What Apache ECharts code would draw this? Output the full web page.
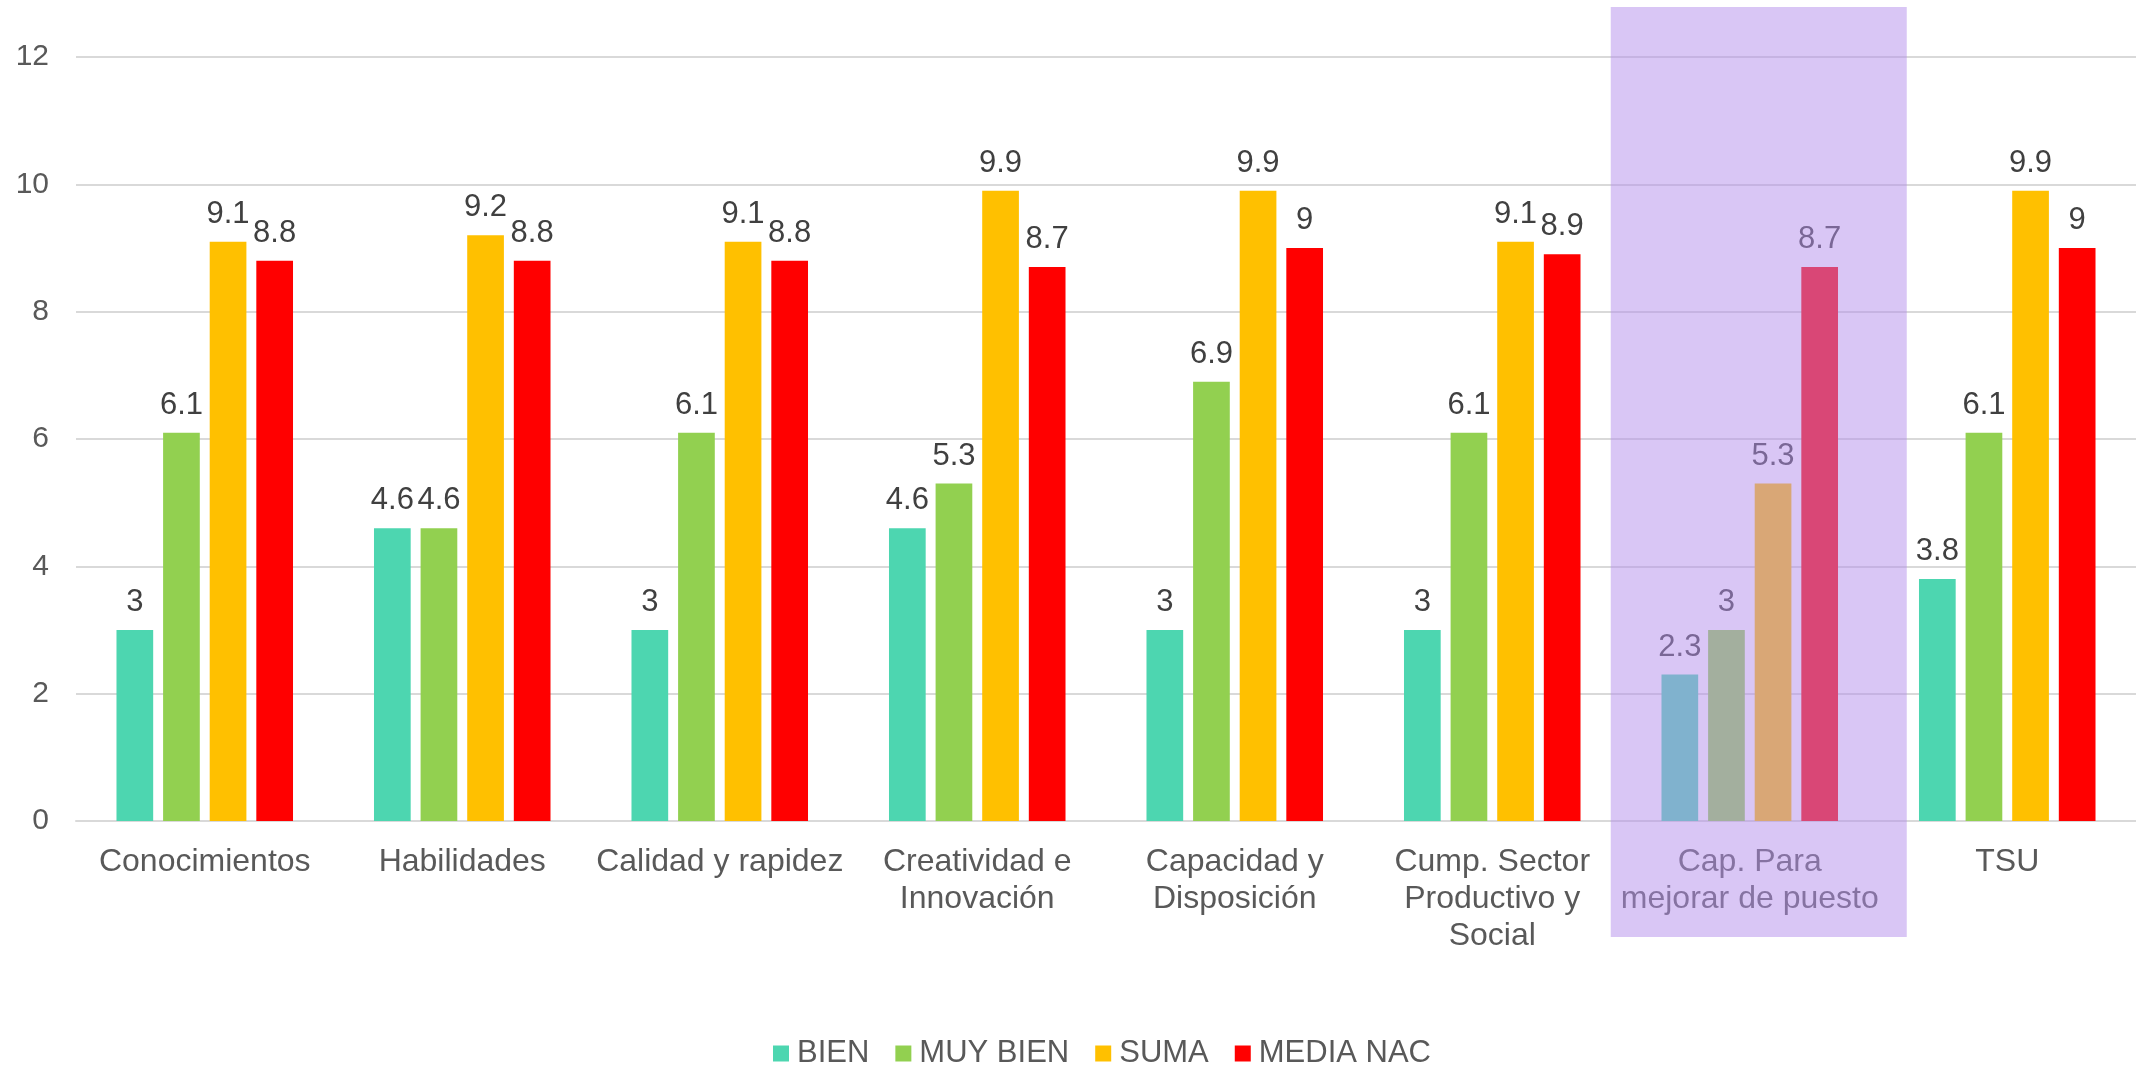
<!DOCTYPE html>
<html>
<head>
<meta charset="utf-8">
<script src="https://cdn.jsdelivr.net/npm/echarts@6/dist/echarts.min.js"></script>
<style>
html,body{margin:0;padding:0;background:#fff;}
#c{width:2136px;height:1068px;}
</style>
</head>
<body>
<div id="c"></div>
<script>
const categories = ["Conocimientos", "Habilidades", "Calidad y rapidez", "Creatividad e\nInnovación", "Capacidad y\nDisposición", "Cump. Sector\nProductivo y\nSocial", "Cap. Para\nmejorar de puesto", "TSU"];
const seriesNames = ["BIEN", "MUY BIEN", "SUMA", "MEDIA NAC"];
const bien = [3, 4.6, 3, 4.6, 3, 3, 2.3, 3.8];
const muyBien = [6.1, 4.6, 6.1, 5.3, 6.9, 6.1, 3, 6.1];
const suma = [9.1, 9.2, 9.1, 9.9, 9.9, 9.1, 5.3, 9.9];
const mediaNac = [8.8, 8.8, 8.8, 8.7, 9, 8.9, 8.7, 9];
const highlightCategory = "Cap. Para\nmejorar de puesto";

const colors = ["#4DD6B0", "#92D050", "#FFC000", "#FF0000"];
const txtFont = "Liberation Sans, Arial, sans-serif";

const chart = echarts.init(document.getElementById('c'), null, {renderer: 'canvas'});

function mkSeries(name, data, color) {
  return {
    name: name,
    type: 'bar',
    data: data,
    barWidth: 36.7,
    barGap: '27%',
    itemStyle: {color: color},
    label: {
      show: true,
      position: 'top',
      distance: 12,
      color: '#404040',
      fontFamily: txtFont,
      fontSize: 31
    },
    emphasis: {disabled: true}
  };
}

const option = {
  animation: false,
  backgroundColor: '#fff',
  color: colors,
  grid: {left: 76, right: 0, top: 57, bottom: 247, containLabel: false},
  legend: {
    data: seriesNames,
    left: 768,
    top: 1033,
    itemWidth: 16,
    itemHeight: 16,
    itemGap: 26,
    icon: 'rect',
    textStyle: {color: '#595959', fontFamily: txtFont, fontSize: 31, padding: [0, 0, 0, 3]}
  },
  xAxis: {
    type: 'category',
    data: categories,
    axisTick: {show: false},
    axisLine: {show: true, lineStyle: {color: '#D9D9D9', width: 2}},
    axisLabel: {
      interval: 0,
      margin: 23,
      color: '#595959',
      fontFamily: txtFont,
      fontSize: 32,
      lineHeight: 37
    }
  },
  yAxis: {
    type: 'value',
    min: 0,
    max: 12,
    interval: 2,
    axisLine: {show: false},
    axisTick: {show: false},
    splitLine: {lineStyle: {color: '#D9D9D9', width: 2}},
    axisLabel: {color: '#595959', fontFamily: txtFont, fontSize: 30, margin: 27}
  },
  series: [
    mkSeries(seriesNames[0], bien, colors[0]),
    mkSeries(seriesNames[1], muyBien, colors[1]),
    mkSeries(seriesNames[2], suma, colors[2]),
    mkSeries(seriesNames[3], mediaNac, colors[3])
  ]
};
chart.setOption(option);

const cx = chart.convertToPixel({xAxisIndex: 0}, highlightCategory);
chart.setOption({
  graphic: [{
    type: 'rect',
    z: 100,
    silent: true,
    shape: {x: cx - 139, y: 7, width: 296, height: 930},
    style: {fill: 'rgba(180,142,235,0.5)'}
  }]
});
</script>
</body>
</html>
